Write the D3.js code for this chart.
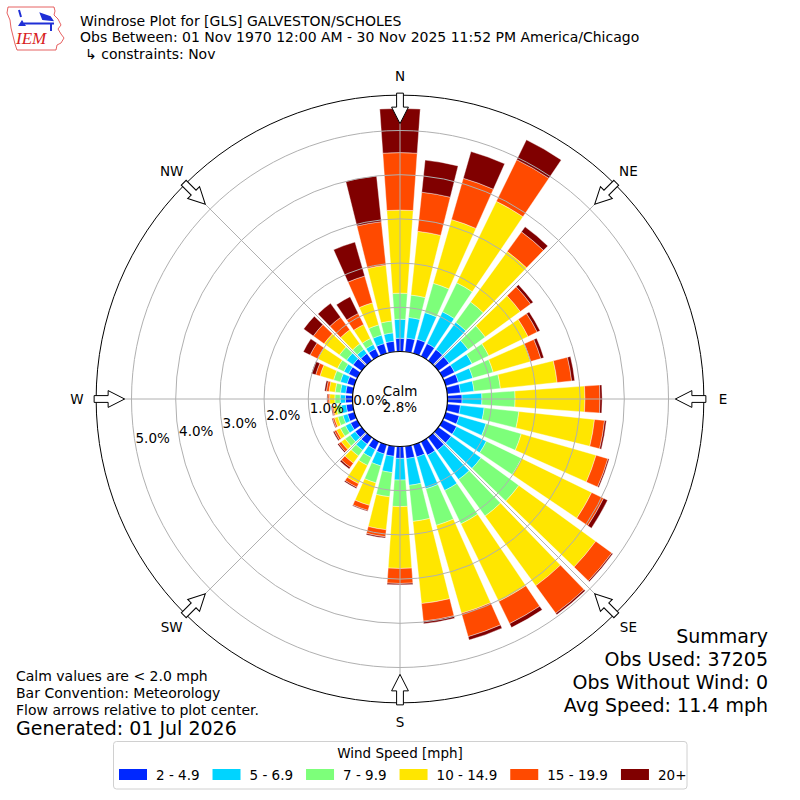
<!DOCTYPE html>
<html>
<head>
<meta charset="utf-8">
<script src="https://cdn.jsdelivr.net/npm/d3@7"></script>
<style>
  body { margin: 0; background: #fff; }
  text { font-family: "DejaVu Sans", sans-serif; fill: #000; }
</style>
</head>
<body>
<svg width="800" height="800"></svg>
<script>
// **** Data (percent of obs per direction / speed bin) ****
var directions = [0, 10, 20, 30, 40, 50, 60, 70, 80, 90, 100, 110,
                  120, 130, 140, 150, 160, 170, 180, 190, 200, 210, 220, 230,
                  240, 250, 260, 270, 280, 290, 300, 310, 320, 330, 340, 350];

var speedBins = ["2 - 4.9", "5 - 6.9", "7 - 9.9", "10 - 14.9", "15 - 19.9", "20+"];

var pct_2_5 = [0.30, 0.31, 0.33, 0.32, 0.31, 0.30, 0.30, 0.30, 0.30, 0.33, 0.30, 0.32,
               0.35, 0.36, 0.36, 0.34, 0.29, 0.28, 0.27, 0.23, 0.22, 0.20, 0.19, 0.18,
               0.17, 0.16, 0.15, 0.16, 0.16, 0.17, 0.22, 0.24, 0.20, 0.19, 0.23, 0.24];
var pct_5_7 = [0.43, 0.47, 0.63, 0.80, 0.76, 0.53, 0.44, 0.34, 0.31, 0.45, 0.54, 0.63,
               0.75, 0.83, 0.82, 0.89, 0.75, 0.61, 0.49, 0.37, 0.28, 0.20, 0.17, 0.14,
               0.13, 0.11, 0.11, 0.12, 0.12, 0.16, 0.12, 0.18, 0.12, 0.11, 0.20, 0.19];
var pct_7_10 = [0.59, 0.51, 0.69, 0.73, 0.57, 0.48, 0.42, 0.48, 0.60, 0.75, 0.79, 0.83,
                0.89, 1.06, 1.02, 0.84, 0.86, 0.82, 0.60, 0.55, 0.40, 0.20, 0.16, 0.14,
                0.13, 0.12, 0.11, 0.12, 0.12, 0.16, 0.16, 0.20, 0.15, 0.15, 0.24, 0.27];
var pct_10_15 = [1.88, 1.45, 1.50, 2.05, 1.41, 0.98, 0.99, 0.88, 1.29, 1.58, 1.72, 1.76,
                 1.76, 2.15, 1.95, 1.95, 2.07, 1.87, 1.40, 0.75, 0.53, 0.46, 0.20, 0.11,
                 0.10, 0.08, 0.07, 0.12, 0.14, 0.32, 0.50, 0.43, 0.39, 0.35, 0.52, 1.27];
var pct_15_20 = [1.30, 0.89, 0.97, 1.05, 0.55, 0.29, 0.23, 0.24, 0.33, 0.34, 0.23, 0.28,
                 0.30, 0.45, 0.77, 0.56, 0.55, 0.40, 0.34, 0.16, 0.12, 0.09, 0.12, 0.07,
                 0.05, 0.04, 0.03, 0.04, 0.06, 0.10, 0.19, 0.30, 0.35, 0.28, 0.63, 0.99];
var pct_20up = [1.00, 0.73, 0.63, 0.50, 0.14, 0.07, 0.07, 0.07, 0.07, 0.05, 0.04, 0.03,
                0.10, 0.03, 0.04, 0.10, 0.08, 0.06, 0.03, 0.03, 0.02, 0.03, 0.04, 0.03,
                0.03, 0.02, 0.02, 0.02, 0.04, 0.10, 0.17, 0.27, 0.39, 0.42, 0.80, 1.04];

var calmPct = 2.8;
var rTicks = [0, 1, 2, 3, 4, 5];
var compassNames = ["N", "NE", "E", "SE", "S", "SW", "W", "NW"];
var compassAngles = [0, 45, 90, 135, 180, 225, 270, 315];

var titleLines = ["Windrose Plot for [GLS] GALVESTON/SCHOLES",
                  "Obs Between: 01 Nov 1970 12:00 AM - 30 Nov 2025 11:52 PM America/Chicago",
                  "\u21b3 constraints: Nov"];
var noteLines = ["Calm values are < 2.0 mph",
                 "Bar Convention: Meteorology",
                 "Flow arrows relative to plot center."];
var generatedText = "Generated: 01 Jul 2026";
var summaryLines = ["Summary", "Obs Used: 37205", "Obs Without Wind: 0", "Avg Speed: 11.4 mph"];

// Colour scheme for speed bins
const colours = ["#0028ff", "#00d4ff", "#7dff7a", "#ffe600", "#ff4a00", "#800000"];

// **** Layout ****
var cx = 400, cy = 399;
var svg = d3.select("svg");

var rScale = d3.scaleLinear().domain([0, 5]).range([47.5, 268.5]);
var aScale = d3.scaleLinear().domain([0, 360]).range([0, 2 * Math.PI]);
var rMax = 5.8;

var keys = ["b0", "b1", "b2", "b3", "b4", "b5"];
var series = [pct_2_5, pct_5_7, pct_7_10, pct_10_15, pct_15_20, pct_20up];
var rows = directions.map(function(d, i) {
    var row = { dir: d };
    keys.forEach(function(k, j) { row[k] = series[j][i]; });
    return row;
});
var stacked = d3.stack().keys(keys)(rows);

var chartG = svg.append("g").attr("transform", `translate(${cx},${cy})`);

var arc = d3.arc()
    .innerRadius(d => rScale(d[0]))
    .outerRadius(d => rScale(d[1]))
    .startAngle(d => aScale(d.data.dir - 4))
    .endAngle(d => aScale(d.data.dir + 4));

chartG.selectAll(".layer")
    .data(stacked)
    .enter()
    .append("g")
    .attr("class", "layer")
    .attr("fill", (d, i) => colours[i])
    .selectAll("path")
    .data(d => d)
    .enter()
    .append("path")
    .attr("d", arc)
    .attr("stroke", "#fff")
    .attr("stroke-width", 0.4);

// grid circles
chartG.selectAll(".ring")
    .data(rTicks.slice(1))
    .enter()
    .append("circle")
    .attr("r", d => rScale(d))
    .attr("fill", "none")
    .attr("stroke", "#b0b0b0")
    .attr("stroke-width", 1);

// radial grid lines
chartG.selectAll(".spoke")
    .data(compassAngles)
    .enter()
    .append("line")
    .attr("x1", d => rScale(0) * Math.sin(aScale(d)))
    .attr("y1", d => -rScale(0) * Math.cos(aScale(d)))
    .attr("x2", d => rScale(rMax) * Math.sin(aScale(d)))
    .attr("y2", d => -rScale(rMax) * Math.cos(aScale(d)))
    .attr("stroke", "#b0b0b0")
    .attr("stroke-width", 1);

// calm circle and outer frame
chartG.append("circle")
    .attr("r", rScale(0))
    .attr("fill", "#fff")
    .attr("stroke", "#000")
    .attr("stroke-width", 1.2);

chartG.append("circle")
    .attr("r", rScale(rMax))
    .attr("fill", "none")
    .attr("stroke", "#000")
    .attr("stroke-width", 1);

// flow arrows pointing to center
var rOut = rScale(rMax);
var arrowPts = [[-3.4, -rOut - 2], [3.4, -rOut - 2], [3.4, -rOut + 12], [8.4, -rOut + 12],
                [0, -rOut + 28.5], [-8.4, -rOut + 12], [-3.4, -rOut + 12]];
chartG.selectAll(".arrow")
    .data(compassAngles)
    .enter()
    .append("path")
    .attr("d", d3.line()(arrowPts) + "Z")
    .attr("transform", d => `rotate(${d})`)
    .attr("fill", "#fff")
    .attr("stroke", "#000")
    .attr("stroke-width", 1);

// compass labels
chartG.selectAll(".compass")
    .data(compassNames)
    .enter()
    .append("text")
    .attr("x", (d, i) => 323 * Math.sin(aScale(compassAngles[i])))
    .attr("y", (d, i) => -323 * Math.cos(aScale(compassAngles[i])) + 5)
    .attr("text-anchor", "middle")
    .style("font-size", "13.5px")
    .text(d => d);

// radial tick labels
var labA = 9.9 * Math.PI / 180;
chartG.selectAll(".rlabel")
    .data(rTicks)
    .enter()
    .append("text")
    .attr("x", d => -rScale(d) * Math.cos(labA))
    .attr("y", d => rScale(d) * Math.sin(labA) - 2)
    .style("font-size", "13.5px")
    .text(d => d.toFixed(1) + "%");

// calm text
chartG.append("text").attr("x", 0).attr("y", -3).attr("text-anchor", "middle")
    .style("font-size", "13.5px").text("Calm");
chartG.append("text").attr("x", 0).attr("y", 13).attr("text-anchor", "middle")
    .style("font-size", "13.5px").text(calmPct.toFixed(1) + "%");

// **** Titles and notes ****
svg.selectAll(".title")
    .data(titleLines)
    .enter()
    .append("text")
    .attr("x", (d, i) => i === 2 ? 85 : 80)
    .attr("y", (d, i) => 25.7 + i * 16.7)
    .style("font-size", "14px")
    .text(d => d);

svg.selectAll(".note")
    .data(noteLines)
    .enter()
    .append("text")
    .attr("x", 16)
    .attr("y", (d, i) => 681 + i * 17)
    .style("font-size", "14px")
    .text(d => d);

svg.append("text")
    .attr("x", 16)
    .attr("y", 735)
    .style("font-size", "19px")
    .text(generatedText);

svg.selectAll(".summary")
    .data(summaryLines)
    .enter()
    .append("text")
    .attr("x", 768)
    .attr("y", (d, i) => 642.5 + i * 23.3)
    .attr("text-anchor", "end")
    .style("font-size", "19px")
    .text(d => d);

// **** Legend ****
var legend = svg.append("g").attr("class", "legend");
legend.append("rect")
    .attr("x", 113.5).attr("y", 741.5)
    .attr("width", 573.5).attr("height", 47.5)
    .attr("rx", 3)
    .attr("fill", "#fff")
    .attr("stroke", "#d0d0d0");
legend.append("text")
    .attr("x", 400).attr("y", 757.5)
    .attr("text-anchor", "middle")
    .style("font-size", "13.5px")
    .text("Wind Speed [mph]");

var lx = 119;
speedBins.forEach(function(label, i) {
    legend.append("rect")
        .attr("x", lx).attr("y", 769)
        .attr("width", 28).attr("height", 11)
        .attr("fill", colours[i]);
    var t = legend.append("text")
        .attr("x", lx + 37).attr("y", 780)
        .style("font-size", "13.5px")
        .text(label);
    lx = lx + 37 + t.node().getComputedTextLength() + 13;
});

// **** IEM logo ****
var logo = svg.append("g").attr("class", "logo");
logo.append("path")
    .attr("d", "M8,7 L54,7 L55,11 L54,15 L58,19 L61,25 L58,29 L61,34 L64,38 L61,43 L57,45 L56,50 L17,50 L15,44 L13,36 L11,28 L10,20 L7,13 Z")
    .attr("fill", "none")
    .attr("stroke", "#e03a3a")
    .attr("stroke-width", 0.8);
logo.append("path")
    .attr("d", "M24,23.5 L54,23.5 M19,10 L21,17 M41,14 L50,17 L52,20 L43,19 Z M51,24 L51,31")
    .attr("fill", "#1f2fd6")
    .attr("stroke", "#1f2fd6")
    .attr("stroke-width", 2);
logo.append("path")
    .attr("d", "M18,26 L22,20 L26,26 Z")
    .attr("fill", "#1f2fd6");
logo.append("text")
    .attr("x", 16).attr("y", 44)
    .style("font-family", "'Liberation Serif', serif")
    .style("font-style", "italic")
    .style("font-size", "17px")
    .style("fill", "#d82020")
    .text("IEM");
</script>
</body>
</html>
